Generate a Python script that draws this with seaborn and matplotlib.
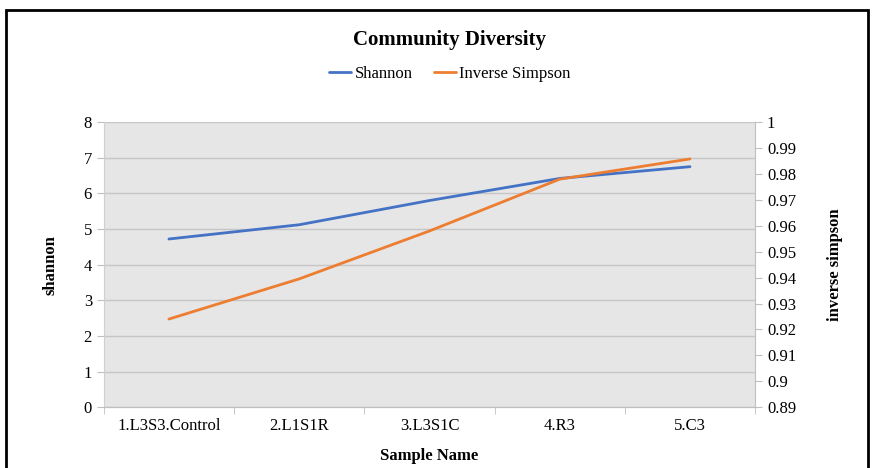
import numpy as np
import pandas as pd
import matplotlib
matplotlib.use("Agg")
import matplotlib.pyplot as plt
import seaborn as sns
from matplotlib.patches import Rectangle
from matplotlib.ticker import FixedLocator

samples = ["1.L3S3.Control", "2.L1S1R", "3.L3S1C", "4.R3", "5.C3"]
shannon = [4.72, 5.12, 5.80, 6.42, 6.75]
inv_simpson = [0.924, 0.9395, 0.958, 0.978, 0.9858]

blue = "#4472C4"
orange = "#ED7D31"

sns.set_style("whitegrid", {"axes.facecolor": "#e6e6e6", "grid.color": "#c6c6c6",
                            "text.color": "black", "axes.labelcolor": "black",
                            "xtick.color": "black", "ytick.color": "black"})
plt.rcParams["font.family"] = ["Liberation Serif", "DejaVu Serif"]

df = pd.DataFrame({"sample": samples, "shannon": shannon, "inv": inv_simpson})
df["pos"] = np.arange(len(samples))

fig = plt.figure(figsize=(8.72, 4.68), dpi=100)
ax = fig.add_axes([0.119, 0.130, 0.747, 0.609])
ax2 = ax.twinx()

sns.lineplot(data=df, x="pos", y="shannon", ax=ax, color=blue, linewidth=2, label="Shannon", legend=False)
sns.lineplot(data=df, x="pos", y="inv", ax=ax2, color=orange, linewidth=2, label="Inverse Simpson", legend=False)

ax.set_xlim(-0.5, len(samples) - 0.5)
ax.set_ylim(0, 8)
ax.set_yticks(range(0, 9))
ax.set_xticks(df["pos"])
ax.set_xticklabels(samples, fontsize=12)
ax.xaxis.set_minor_locator(FixedLocator(np.arange(-0.5, len(samples), 1)))
ax.tick_params(axis="x", which="major", length=0, pad=8, labelcolor="black")
ax.tick_params(axis="x", which="minor", length=5, color="#bfbfbf", bottom=True)
ax.tick_params(axis="y", length=5, color="#bfbfbf", labelsize=12, left=True, labelcolor="black")
ax.grid(axis="x", visible=False)
ax.grid(axis="y", color="#c6c6c6", linewidth=1)

ticks2 = np.round(np.arange(0.89, 1.0001, 0.01), 2)
ax2.set_ylim(0.89, 1.0)
ax2.set_yticks(ticks2)
ax2.set_yticklabels(["%g" % v for v in ticks2], fontsize=12)
ax2.tick_params(axis="y", length=5, color="#bfbfbf", right=True, labelcolor="black")
ax2.grid(False)

for a in (ax, ax2):
    for s in a.spines.values():
        s.set_visible(False)
    a.spines["bottom"].set_visible(True)
    a.spines["bottom"].set_color("#bfbfbf")
ax.spines["left"].set_visible(True)
ax.spines["left"].set_color("#d0d0d0")
ax2.spines["right"].set_visible(True)
ax2.spines["right"].set_color("#bfbfbf")

ax.set_xlabel("Sample Name", fontsize=12, fontweight="bold", labelpad=10, color="black")
ax.set_ylabel("shannon", fontsize=12, fontweight="bold", labelpad=18, color="black")
ax2.set_ylabel("inverse simpson", fontsize=12, fontweight="bold", labelpad=22, color="black")

fig.text(0.516, 0.915, "Community Diversity", ha="center", va="center", fontsize=15,
         fontweight="bold", color="black")
handles = ax.get_lines()[:1] + ax2.get_lines()[:1]
fig.legend(handles, ["Shannon", "Inverse Simpson"], loc="center", bbox_to_anchor=(0.516, 0.842),
           ncol=2, frameon=False, fontsize=12, handlelength=1.3, handletextpad=0.2,
           columnspacing=1.3, labelcolor="black")

fig.patches.append(Rectangle((0.007, -0.1), 0.988, 1.078, transform=fig.transFigure,
                             fill=False, edgecolor="black", linewidth=2))

fig.savefig("out.png", dpi=100)
